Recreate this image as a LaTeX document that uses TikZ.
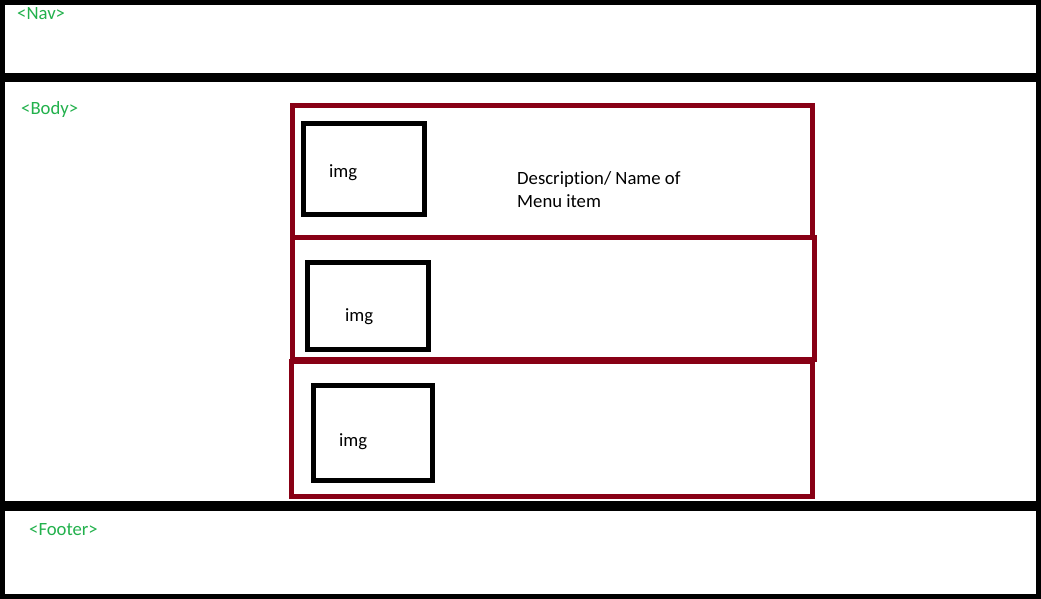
\documentclass[tikz,border=0pt]{standalone}
\usepackage{fontspec}
\setmainfont[Ligatures=NoCommon]{Carlito}
\definecolor{maroon}{HTML}{880015}
\definecolor{tagGreen}{HTML}{22B14C}
\begin{document}
\begin{tikzpicture}[x=1pt,y=-1pt,
  frame/.style={draw=black,line width=5pt},
  bar/.style={fill=black,draw=none},
  itembox/.style={draw=maroon,line width=5pt},
  imgbox/.style={draw=black,line width=5pt},
  tag/.style={text=tagGreen,font=\fontsize{18.7}{22}\selectfont,inner sep=0pt,anchor=base west},
  lbl/.style={text=black,font=\fontsize{18.7}{22}\selectfont,inner sep=0pt,anchor=base west}]
\useasboundingbox (0,0) rectangle (1041,599);
\fill[white] (0,0) rectangle (1041,599);
% outer frame and dividers
\draw[frame] (2.5,2.5) rectangle (1038.5,596);
\fill[bar] (0,73) rectangle (1041,82);
\fill[bar] (0,501) rectangle (1041,511);
% menu item boxes
\draw[itembox] (292,105.5) rectangle (812.5,237.5);
\draw[itembox] (292.5,237.5) rectangle (814.5,359.5);
\draw[itembox] (291.5,361) rectangle (812.5,496);
% image boxes
\draw[imgbox] (303.5,123.5) rectangle (424,214.5);
\draw[imgbox] (307.5,262.5) rectangle (428,349);
\draw[imgbox] (313.5,385) rectangle (432.5,480.5);
% texts
\node[tag] (nav) at (17,20) {<Nav>};
\node[tag] (body) at (21,115) {<Body>};
\node[tag] (footer) at (29,535) {<Footer>};
\node[lbl] (img1) at (329,177) {img};
\node[lbl] (img2) at (345,321) {img};
\node[lbl] (img3) at (339,446) {img};
\node[lbl] (desc1) at (517,184) {Description/ Name of};
\node[lbl] (desc2) at (517,207) {Menu item};
\end{tikzpicture}
\end{document}
